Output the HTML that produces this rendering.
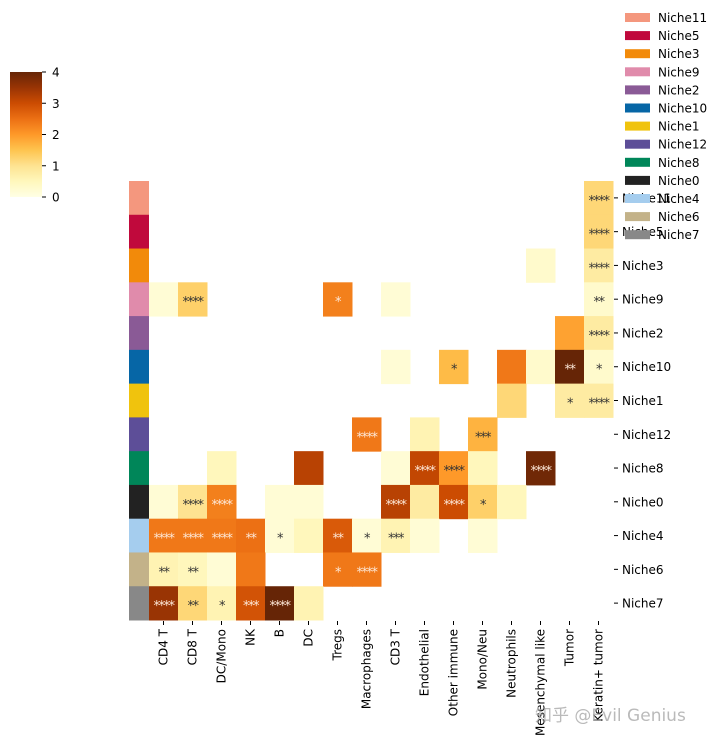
<!DOCTYPE html>
<html><head><meta charset="utf-8"><style>
body{margin:0;background:#fff;width:720px;height:743px;overflow:hidden;font-family:"DejaVu Sans","Liberation Sans","Noto Sans CJK SC",sans-serif}
</style></head><body>
<svg id="chart" width="720" height="743" xmlns="http://www.w3.org/2000/svg"></svg>
<script>
const cols=["CD4 T","CD8 T","DC/Mono","NK","B","DC","Tregs","Macrophages","CD3 T","Endothelial","Other immune","Mono/Neu","Neutrophils","Mesenchymal like","Tumor","Keratin+ tumor"];
const rows=["Niche11","Niche5","Niche3","Niche9","Niche2","Niche10","Niche1","Niche12","Niche8","Niche0","Niche4","Niche6","Niche7"];
const rowColors=["#f4977e","#c0093c","#f28a0a","#e08bab","#8a5a96","#0666a6","#f0c30d","#5d4e98","#008659","#222222","#a5cdee","#c3b289","#888888"];
const legendRows=["Niche11","Niche5","Niche3","Niche9","Niche2","Niche10","Niche1","Niche12","Niche8","Niche0","Niche4","Niche6","Niche7"];
const N=null;
const values=[
[N,N,N,N,N,N,N,N,N,N,N,N,N,N,N,1.2],
[N,N,N,N,N,N,N,N,N,N,N,N,N,N,N,1.2],
[N,N,N,N,N,N,N,N,N,N,N,N,N,0.3,N,0.8],
[0.2,1.3,N,N,N,N,2.3,N,0.2,N,N,N,N,N,N,0.3],
[N,N,N,N,N,N,N,N,N,N,N,N,N,N,1.9,0.8],
[N,N,N,N,N,N,N,N,0.2,N,1.6,N,2.4,0.3,4.0,0.3],
[N,N,N,N,N,N,N,N,N,N,N,N,1.2,N,0.8,0.8],
[N,N,N,N,N,N,N,2.4,N,0.6,N,1.7,N,N,N,N],
[N,N,0.5,N,N,3.2,N,N,0.2,3.1,2.0,0.5,N,3.9,N,N],
[0.2,1.0,2.3,N,0.2,0.2,N,N,3.2,0.8,3.0,1.3,0.5,N,N,N],
[2.4,2.4,2.4,2.5,0.2,0.5,2.8,0.2,0.6,0.2,N,0.2,N,N,N,N],
[0.6,0.5,0.2,2.4,N,N,2.4,2.4,N,N,N,N,N,N,N,N],
[3.5,1.2,0.6,2.9,4.0,0.6,N,N,N,N,N,N,N,N,N,N]];
const stars=[
["","","","","","","","","","","","","","","","****"],
["","","","","","","","","","","","","","","","****"],
["","","","","","","","","","","","","","","","****"],
["","****","","","","","*","","","","","","","","","**"],
["","","","","","","","","","","","","","","","****"],
["","","","","","","","","","","*","","","","**","*"],
["","","","","","","","","","","","","","","*","****"],
["","","","","","","","****","","","","***","","","",""],
["","","","","","","","","","****","****","","","****","",""],
["","****","****","","","","","","****","","****","*","","","",""],
["****","****","****","**","*","","**","*","***","","","","","","",""],
["**","**","","","","","*","****","","","","","","","",""],
["****","**","*","***","****","","","","","","","","","","",""]];
const cbTicks=[0,1,2,3,4];
const NS="http://www.w3.org/2000/svg";
const svg=document.getElementById('chart');
const stops=["#ffffe5","#fff7bc","#fee391","#fec44f","#fe9929","#ec7014","#cc4c02","#993404","#662506"];
function hex(h){return [1,3,5].map(i=>parseInt(h.substr(i,2),16));}
function cmap(v){let t=Math.max(0,Math.min(1,v/4))*8;let i=Math.min(7,Math.floor(t));let f=t-i;let a=hex(stops[i]),b=hex(stops[i+1]);return "rgb("+a.map((x,k)=>Math.round(x+(b[k]-x)*f)).join(",")+")";}
function el(t,a,txt){const e=document.createElementNS(NS,t);for(const k in a)e.setAttribute(k,a[k]);if(txt!=null)e.textContent=txt;svg.appendChild(e);return e;}
const X0=149,Y0=181,CW=(613-149)/cols.length,RH=(620-181)/rows.length;
const xs=i=>X0+i*CW, ys=j=>Y0+j*RH;
rows.forEach((r,j)=>{
  const b=el('rect',{x:129,y:ys(j),width:20,height:RH+0.5,fill:rowColors[j]});
  
  
  cols.forEach((c,i)=>{
    const v=values[j][i]; if(v==null)return;
    const rc=el('rect',{x:xs(i),y:ys(j),width:CW+0.5,height:RH+0.5,fill:cmap(v)});
    
    
    const s=stars[j][i];
    if(s){const t=el('text',{x:xs(i)+CW/2,y:ys(j)+RH/2+7,'text-anchor':'middle','font-size':13,'letter-spacing':-1.5,fill:v>2?'#fde8d8':'#333'},s);
      
      }
  });
  el('line',{x1:614,x2:618,y1:ys(j)+RH/2,y2:ys(j)+RH/2,stroke:'#000','stroke-width':1});
  const lt=el('text',{x:622,y:ys(j)+RH/2+4.5,'font-size':12,fill:'#000'},r);
  
  
});
cols.forEach((c,i)=>{
  const cx=xs(i)+CW/2;
  el('line',{x1:cx,x2:cx,y1:621,y2:625,stroke:'#000','stroke-width':1});
  const t=el('text',{x:0,y:0,'font-size':12,fill:'#000','text-anchor':'end',transform:`translate(${cx+4},629) rotate(-90)`},c);
  
  
});
const defs=el('defs',{});
const g=document.createElementNS(NS,'linearGradient');g.setAttribute('id','cbg');g.setAttribute('x1','0');g.setAttribute('y1','1');g.setAttribute('x2','0');g.setAttribute('y2','0');
stops.forEach((s,k)=>{const st=document.createElementNS(NS,'stop');st.setAttribute('offset',k/8);st.setAttribute('stop-color',s);g.appendChild(st);});
defs.appendChild(g);
const cb=el('rect',{x:10,y:72,width:32,height:125,fill:'url(#cbg)'});


cbTicks.forEach(v=>{const y=197-v/4*125;
  el('line',{x1:42,x2:46,y1:y,y2:y,stroke:'#000'});
  const t=el('text',{x:52,y:y+4.5,'font-size':12,fill:'#000'},v);
  
  });
legendRows.forEach((r,k)=>{const y=13+k*18.1;
  const p=el('rect',{x:625,y:y,width:25,height:9,fill:rowColors[k]});
  
  
  const t=el('text',{x:658,y:y+9,'font-size':12,fill:'#000'},r);
  
  });
const w=el('text',{x:535,y:721,'font-size':17,fill:'#aaa',opacity:0.8},'知乎 @Evil Genius');


</script>
</body></html>
